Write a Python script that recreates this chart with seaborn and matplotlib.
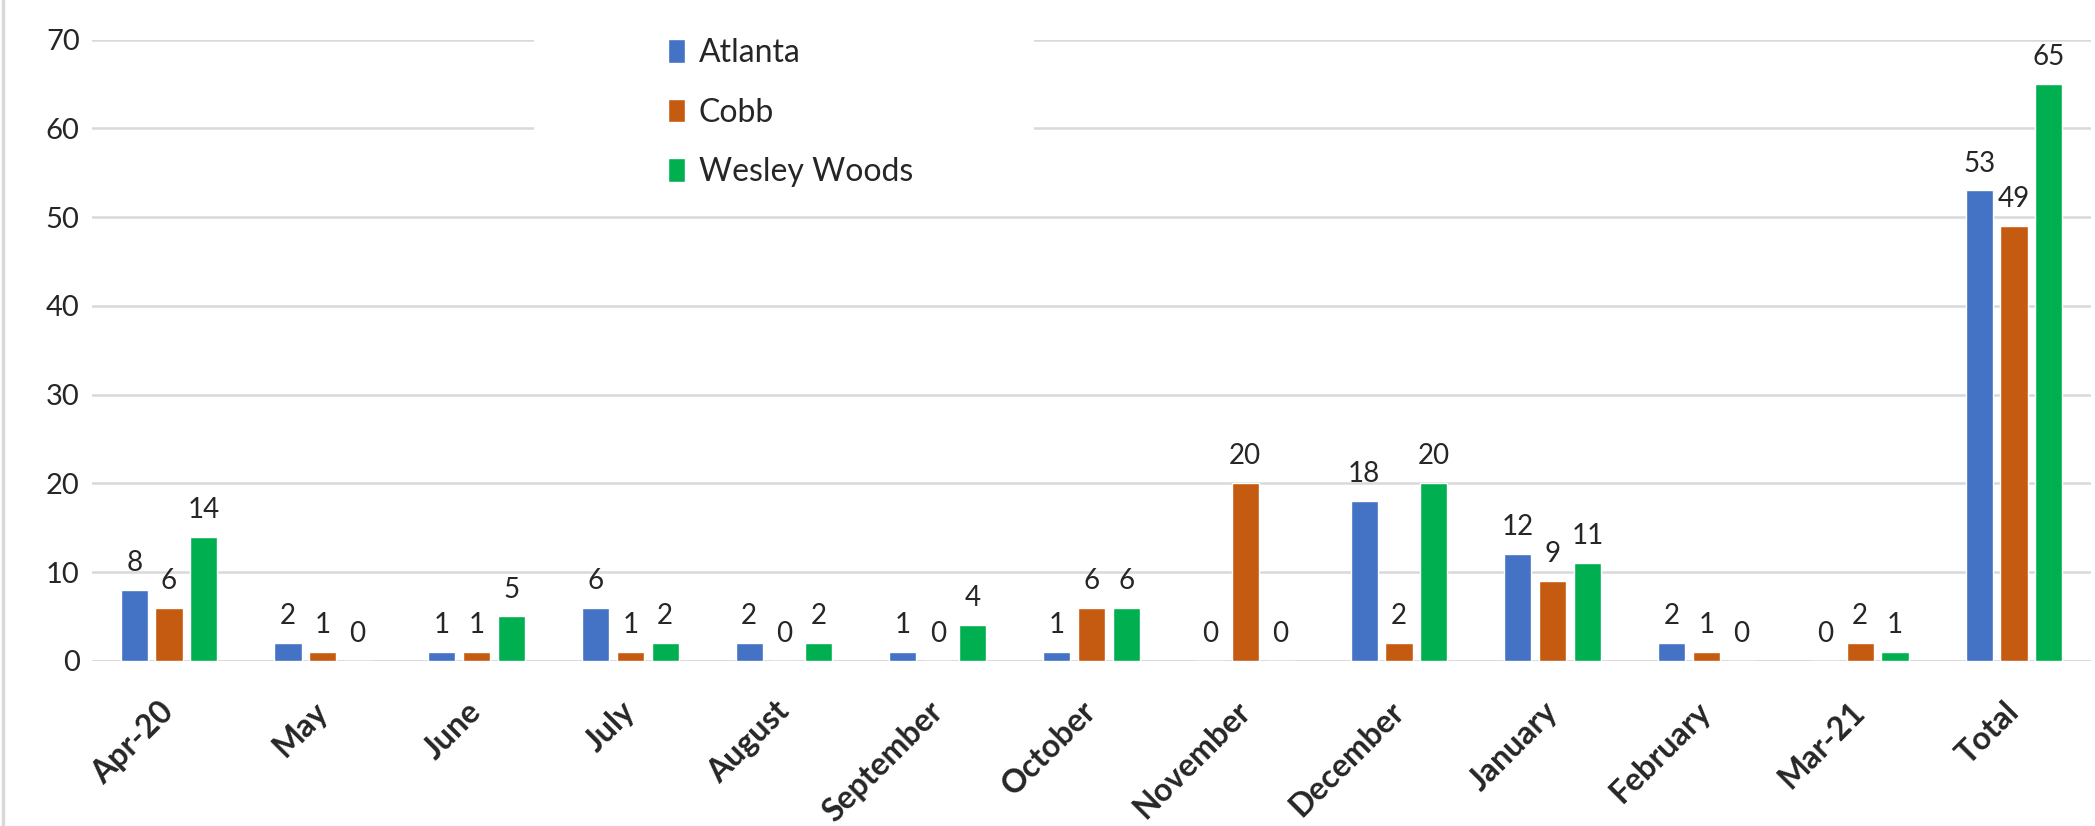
import pandas as pd
import matplotlib
matplotlib.use("Agg")
import matplotlib.pyplot as plt
from matplotlib.patches import Rectangle
from matplotlib.lines import Line2D
import seaborn as sns

# Data
months = ['Apr-20', 'May', 'June', 'July', 'August', 'September', 'October',
          'November', 'December', 'January', 'February', 'Mar-21', 'Total']
atlanta = [8, 2, 1, 6, 2, 1, 1, 0, 18, 12, 2, 0, 53]
cobb = [6, 1, 1, 1, 0, 0, 6, 20, 2, 9, 1, 2, 49]
wesley_woods = [14, 0, 5, 2, 2, 4, 6, 0, 20, 11, 0, 1, 65]
sites = ['Atlanta', 'Cobb', 'Wesley Woods']
colors = ['#4472C4', '#C55A11', '#00B050']

df = pd.DataFrame({
    'Month': months * 3,
    'Site': [s for s in sites for _ in months],
    'Count': atlanta + cobb + wesley_woods,
})

sns.set_style("white")
plt.rcParams['font.family'] = ['Lato', 'DejaVu Sans']

fig = plt.figure(figsize=(20.95, 8.26), dpi=100)
ax = fig.add_axes([0.044, 0.2, 0.954, 0.752])

sns.barplot(data=df, x='Month', y='Count', hue='Site', order=months,
            hue_order=sites, palette=colors, width=0.68, gap=0.22,
            errorbar=None, saturation=1, ax=ax, zorder=3)

# Value labels
for cont in ax.containers:
    ax.bar_label(cont, padding=10, fontsize=20, color='#262626', clip_on=False)

ax.set_ylim(0, 70)
ax.set_yticks(range(0, 71, 10))
ax.set_xlim(-0.5, len(months) - 0.5)
ax.grid(axis='y', color='#D9D9D9', linewidth=1.8, zorder=0)
ax.set_axisbelow(True)
sns.despine(ax=ax, left=True, bottom=True, top=True, right=True)
ax.axhline(0, color='#D9D9D9', linewidth=1.8, zorder=1)

ax.set_xlabel('')
ax.set_ylabel('')
ax.tick_params(axis='y', length=0, pad=9, labelsize=21, labelcolor='#262626')
ax.tick_params(axis='x', length=0, pad=33, labelsize=23, labelcolor='#262626',
               labelrotation=45)
plt.setp(ax.get_xticklabels(), ha='right', va='center',
         rotation_mode='anchor', fontweight='bold')

# Legend area (white box hiding gridlines, as in the original)
ax.add_patch(Rectangle((534 / 2095, 1 - 200 / 826), 500 / 2095, 190 / 826,
                       transform=fig.transFigure, facecolor='white',
                       edgecolor='none', zorder=2, clip_on=False))
leg = ax.legend(loc='upper left', bbox_to_anchor=(668 / 2095, 1 - 38 / 826),
                bbox_transform=fig.transFigure, frameon=False, fontsize=23,
                handlelength=0.53, handleheight=0.77, handletextpad=0.43,
                labelspacing=0.93, borderaxespad=0, borderpad=0)
leg.set_zorder(5)
for t in leg.get_texts():
    t.set_color('#262626')

fig.add_artist(Line2D([0.0012, 0.0012], [0, 1], transform=fig.transFigure,
                      color='#D9D9D9', linewidth=2.5))

plt.savefig('out.png', dpi=100)
